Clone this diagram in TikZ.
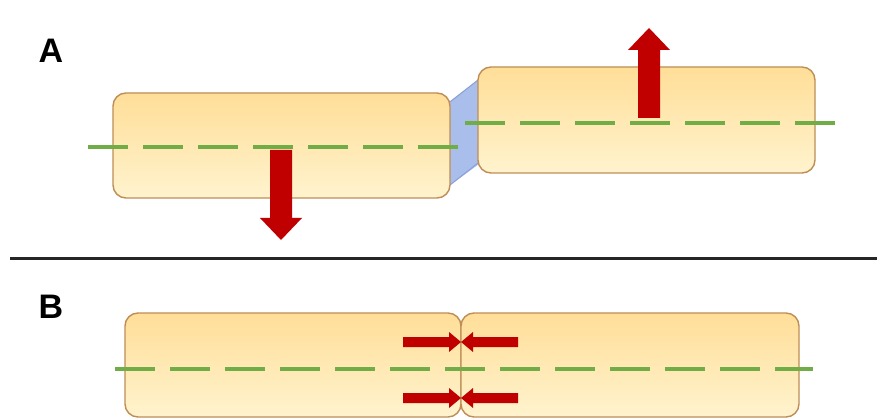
\documentclass[tikz,border=0pt]{standalone}
\usepackage{fontspec}
\setmainfont{Liberation Sans}
\definecolor{boxtop}{RGB}{255,222,152}
\definecolor{boxbot}{RGB}{255,243,206}
\definecolor{boxedge}{RGB}{190,142,86}
\definecolor{axisgreen}{RGB}{112,173,71}
\definecolor{arrowred}{RGB}{192,0,0}
\definecolor{bridgeblue}{RGB}{170,190,235}
\definecolor{bridgeedge}{RGB}{140,160,215}
\begin{document}
\begin{tikzpicture}[x=1pt,y=-1pt,
  panel/.style={draw=boxedge, line width=1.4pt, rounded corners=13pt,
    top color=boxtop, bottom color=boxbot, minimum width=#1,
    inner sep=0pt, outer sep=0pt},
  axisline/.style={draw=axisgreen, line width=3.5pt, dash pattern=on 40pt off 15pt},
  redblock/.style={fill=arrowred, draw=none},
  lbl/.style={font=\fontsize{34}{34}\selectfont\bfseries, inner sep=0pt}]
\useasboundingbox (0,0) rectangle (877,419);
\fill[white] (0,0) rectangle (877,419);

% labels
\node[lbl] (labA) at (51,51) {A};
\node[lbl] (labB) at (51,307) {B};

% separator
\draw[line width=3pt, black!85] (10,259) -- (877,259);

% ---- Part A ----
\fill[bridgeblue] (449,102) -- (479,79) -- (479,164) -- (449,186) -- cycle;
\draw[bridgeedge, line width=1pt] (450,102) -- (478,80);
\draw[bridgeedge, line width=1pt] (450,185) -- (478,163);
\node[panel=337pt, minimum height=105pt] (aL) at (281.5,145.5) {};
\node[panel=337pt, minimum height=106pt] (aR) at (646.5,120) {};
\draw[axisline] (88,147) -- (458,147);
\draw[axisline] (465,123) -- (835,123);
\fill[redblock] (270,150) -- (292,150) -- (292,218) -- (302,218) -- (281,240)
  -- (260,218) -- (270,218) -- cycle;
\fill[redblock] (638,118) -- (660,118) -- (660,50) -- (670,50) -- (649,28)
  -- (628,50) -- (638,50) -- cycle;

% ---- Part B ----
\node[panel=336pt, minimum height=104pt] (bL) at (293,365) {};
\node[panel=338pt, minimum height=104pt] (bR) at (630,365) {};
\draw[axisline] (115,369) -- (813,369);
\foreach \yy in {342,398}{
  \fill[redblock] (403,\yy-5) -- (449,\yy-5) -- (449,\yy-10) -- (461,\yy)
    -- (449,\yy+10) -- (449,\yy+5) -- (403,\yy+5) -- cycle;
  \fill[redblock] (518,\yy-5) -- (473,\yy-5) -- (473,\yy-10) -- (461,\yy)
    -- (473,\yy+10) -- (473,\yy+5) -- (518,\yy+5) -- cycle;
}
\end{tikzpicture}
\end{document}
